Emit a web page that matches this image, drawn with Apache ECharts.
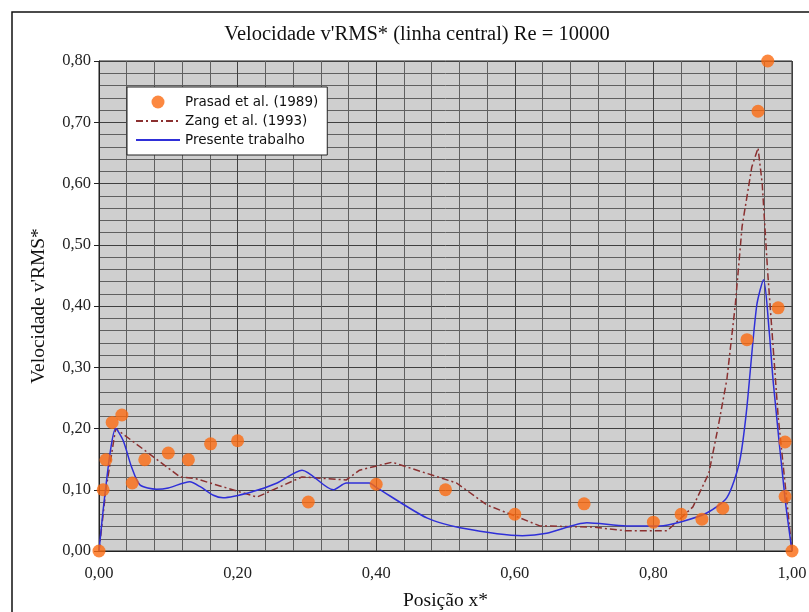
<!DOCTYPE html>
<html>
<head>
<meta charset="utf-8">
<script src="https://cdn.jsdelivr.net/npm/echarts@6/dist/echarts.min.js"></script>
<style>
html,body{margin:0;padding:0;background:#fff;}
#chart{width:809px;height:612px;}
</style>
</head>
<body>
<div id="chart"></div>
<script>
// Prasad et al. (1989) — measured points [x*, v'RMS*]
const prasadX = [0, 0.006, 0.01, 0.019, 0.033, 0.048, 0.066, 0.10, 0.129, 0.161, 0.20, 0.302, 0.40, 0.50, 0.60, 0.70, 0.80, 0.84, 0.87, 0.90, 0.935, 0.951, 0.965, 0.98, 0.99, 0.99, 1.0];
const prasadY = [0, 0.10, 0.149, 0.21, 0.222, 0.111, 0.149, 0.16, 0.149, 0.175, 0.18, 0.08, 0.109, 0.10, 0.06, 0.077, 0.047, 0.06, 0.052, 0.07, 0.345, 0.718, 0.80, 0.397, 0.178, 0.089, 0];

// Zang et al. (1993)
const zangX = [0, 0.01, 0.024, 0.117, 0.14, 0.228, 0.293, 0.357, 0.376, 0.423, 0.516, 0.56, 0.603, 0.636, 0.713, 0.76, 0.82, 0.857, 0.88, 0.893, 0.906, 0.918, 0.928, 0.942, 0.951, 0.957, 0.965, 0.972, 0.98, 0.99, 1.0];
const zangY = [0, 0.10, 0.20, 0.121, 0.118, 0.088, 0.121, 0.116, 0.132, 0.145, 0.111, 0.075, 0.056, 0.041, 0.039, 0.033, 0.033, 0.072, 0.127, 0.20, 0.28, 0.40, 0.53, 0.627, 0.658, 0.60, 0.454, 0.345, 0.22, 0.11, 0];

// Presente trabalho
const presX = [0, 0.006, 0.016, 0.024, 0.035, 0.047, 0.059, 0.083, 0.10, 0.131, 0.146, 0.165, 0.179, 0.222, 0.257, 0.293, 0.338, 0.357, 0.39, 0.40, 0.473, 0.521, 0.611, 0.646, 0.704, 0.761, 0.809, 0.838, 0.877, 0.906, 0.924, 0.934, 0.949, 0.959, 0.967, 0.973, 0.99, 1.0];
const presY = [0, 0.067, 0.16, 0.20, 0.18, 0.137, 0.108, 0.101, 0.103, 0.113, 0.105, 0.091, 0.087, 0.097, 0.111, 0.132, 0.10, 0.111, 0.111, 0.104, 0.054, 0.038, 0.025, 0.029, 0.046, 0.041, 0.041, 0.047, 0.062, 0.087, 0.144, 0.225, 0.40, 0.443, 0.36, 0.275, 0.085, 0];

const xTicks = [0, 0.2, 0.4, 0.6, 0.8, 1.0];
const yTicks = [0, 0.1, 0.2, 0.3, 0.4, 0.5, 0.6, 0.7, 0.8];

const zip = (xs, ys) => xs.map((x, i) => [x, ys[i]]);
const fmt = v => v.toFixed(2).replace('.', ',');
const serif = '"Liberation Serif", "DejaVu Serif", serif';

const chart = echarts.init(document.getElementById('chart'), null, {renderer: 'canvas'});
chart.setOption({
  backgroundColor: '#ffffff',
  animation: false,
  title: {
    text: "Velocidade v'RMS* (linha central) Re = 10000",
    left: 412,
    top: 19,
    textAlign: 'center',
    textStyle: {fontFamily: serif, fontSize: 20.5, fontWeight: 'normal', color: '#111'}
  },
  graphic: [{
    type: 'polyline',
    shape: {points: [[12, 620], [12, 12], [820, 12]]},
    style: {stroke: '#111', lineWidth: 1.5, fill: null},
    silent: true
  }],
  legend: {
    orient: 'vertical',
    left: 127,
    top: 87,
    padding: [8, 9, 8, 8],
    itemGap: 5,
    itemWidth: 44,
    itemHeight: 13,
    backgroundColor: '#ffffff',
    borderColor: '#222',
    borderWidth: 1,
    borderRadius: 0,
    textStyle: {fontFamily: '"DejaVu Sans", sans-serif', fontSize: 13.5, color: '#111'},
    data: [
      {name: 'Prasad et al. (1989)'},
      {name: 'Zang et al. (1993)', itemStyle: {opacity: 0}},
      {name: 'Presente trabalho', itemStyle: {opacity: 0}}
    ]
  },
  grid: {
    left: 99, right: 17, top: 61, bottom: 61,
    outerBoundsMode: 'none',
    containLabel: false,
    show: true,
    backgroundColor: '#cfcfcf',
    borderColor: '#222',
    borderWidth: 1
  },
  xAxis: {
    type: 'value',
    min: 0, max: 1, interval: 0.2,
    name: 'Posição x*',
    nameLocation: 'middle',
    nameGap: 40,
    nameTextStyle: {fontFamily: serif, fontSize: 19.5, color: '#111'},
    axisLine: {show: true, onZero: false, lineStyle: {color: '#222'}},
    axisTick: {show: false},
    axisLabel: {formatter: fmt, fontFamily: serif, fontSize: 16.5, color: '#222', margin: 14},
    splitLine: {show: true, lineStyle: {color: '#404040', width: 1}},
    minorTick: {show: false, splitNumber: 5},
    minorSplitLine: {show: true, lineStyle: {color: '#606060', width: 1}}
  },
  yAxis: {
    type: 'value',
    min: 0, max: 0.8, interval: 0.1,
    name: "Velocidade v'RMS*",
    nameLocation: 'middle',
    nameGap: 50,
    nameTextStyle: {fontFamily: serif, fontSize: 19.5, color: '#111'},
    axisLine: {show: true, lineStyle: {color: '#222'}},
    axisTick: {show: true, length: 5, lineStyle: {color: '#222'}},
    axisLabel: {formatter: fmt, fontFamily: serif, fontSize: 16.5, color: '#222', margin: 8},
    splitLine: {show: true, lineStyle: {color: '#404040', width: 1}},
    minorTick: {show: false, splitNumber: 5},
    minorSplitLine: {show: true, lineStyle: {color: '#606060', width: 1}}
  },
  series: [
    {
      name: 'Zang et al. (1993)',
      type: 'line',
      data: zip(zangX, zangY),
      symbol: 'none',
      lineStyle: {color: '#8b3030', width: 1.5, type: [7, 3, 2, 3]},
      itemStyle: {color: '#8b3030'},
      z: 3
    },
    {
      name: 'Presente trabalho',
      type: 'line',
      data: zip(presX, presY),
      symbol: 'none',
      smooth: 0.25,
      lineStyle: {color: '#2f2fd8', width: 1.5},
      itemStyle: {color: '#2f2fd8'},
      z: 4
    },
    {
      name: 'Prasad et al. (1989)',
      type: 'scatter',
      data: zip(prasadX, prasadY),
      symbol: 'circle',
      symbolSize: 13,
      itemStyle: {color: '#fb6a10'},
      clip: false,
      z: 5
    }
  ]
});
</script>
</body>
</html>
